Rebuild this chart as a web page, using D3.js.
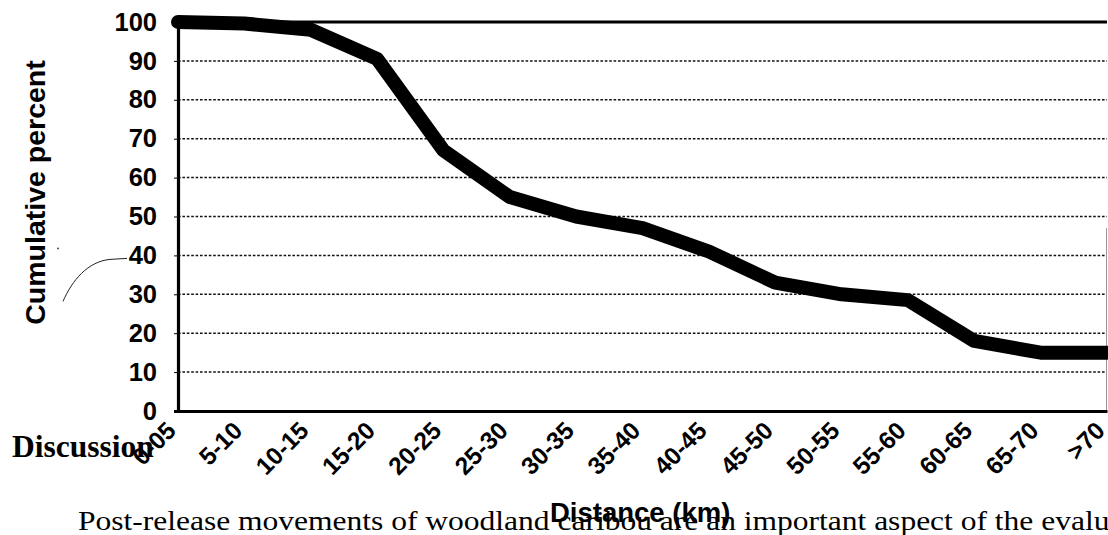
<!DOCTYPE html>
<html>
<head>
<meta charset="utf-8">
<script src="https://cdn.jsdelivr.net/npm/d3@7"></script>
<style>
  html, body { margin: 0; padding: 0; background: #fff; }
  svg { display: block; }
</style>
</head>
<body>
<svg id="chart" width="1108" height="535"></svg>
<script>
// ---- data ----
const categories = ["0-05", "5-10", "10-15", "15-20", "20-25", "25-30", "30-35", "35-40",
                    "40-45", "45-50", "50-55", "55-60", "60-65", "65-70", ">70"];
const cumulativePercent = [100, 99.6, 98, 90.5, 67, 55, 50, 47, 41, 33, 30, 28.5, 18, 15, 15];
const yTicks = [0, 10, 20, 30, 40, 50, 60, 70, 80, 90, 100];
const yTitle = "Cumulative percent";
const xTitle = "Distance (km)";
const headingText = "Discussion";
const bodyVisible = "Post-release movements of woodland caribou are an important aspect of the evalu";
const bodyText = "Post-release movements of woodland caribou are an important aspect of the evaluation";

(function () {
// ---- layout ----
const svg = d3.select("#chart");
const plotL = 178, plotR = 1107, plotT = 22, plotB = 411;
const sans = "'Liberation Sans', Arial, sans-serif";
const serif = "'Liberation Serif', 'Times New Roman', serif";

const x = d3.scalePoint().domain(categories).range([plotL, plotR]).padding(0);
const y = d3.scaleLinear().domain([0, 100]).range([plotB, plotT]);

// body text (scanned line, slightly stretched horizontally)
const bodyX = 78, bodyFont = 28, bodyEnd = 1110;
const probe = svg.append("text")
  .attr("font-family", serif).attr("font-size", bodyFont).text(bodyVisible);
const natural = probe.node().getComputedTextLength();
probe.remove();
const sx = (bodyEnd - bodyX) / natural;
svg.append("text")
  .attr("transform", `translate(${bodyX},530) scale(${sx},1)`)
  .attr("font-family", serif).attr("font-size", bodyFont)
  .attr("fill", "#000")
  .text(bodyText);

svg.append("text")
  .attr("x", 12).attr("y", 457)
  .attr("font-family", serif).attr("font-size", 31.5).attr("font-weight", "bold")
  .attr("fill", "#000")
  .text(headingText);

// gridlines
const grid = svg.append("g");
grid.selectAll("line").data(yTicks.filter(d => d > 0 && d < 100)).join("line")
  .attr("x1", plotL).attr("x2", plotR)
  .attr("y1", d => y(d)).attr("y2", d => y(d))
  .attr("stroke", "#111").attr("stroke-width", 1.5)
  .attr("stroke-dasharray", "2.6,1.8");

// top border
svg.append("line")
  .attr("x1", plotL).attr("x2", plotR).attr("y1", y(100)).attr("y2", y(100))
  .attr("stroke", "#000").attr("stroke-width", 3);
// faint right border
svg.append("line")
  .attr("x1", plotR - 0.5).attr("x2", plotR - 0.5).attr("y1", y(47)).attr("y2", y(0))
  .attr("stroke", "#999").attr("stroke-width", 1);

// y axis
const yAxis = d3.axisLeft(y).tickValues(yTicks).tickSize(4).tickPadding(17);
const gy = svg.append("g").attr("transform", `translate(${plotL},0)`).call(yAxis);
gy.select(".domain").attr("stroke", "#000").attr("stroke-width", 3.2);
gy.selectAll(".tick line").attr("stroke", "#000").attr("stroke-width", 1);
gy.selectAll(".tick text")
  .attr("font-family", sans).attr("font-size", 25.5).attr("font-weight", "bold")
  .attr("fill", "#000");

// x axis
const xAxis = d3.axisBottom(x).tickSize(0).tickPadding(0);
const gx = svg.append("g").attr("transform", `translate(0,${plotB})`).call(xAxis);
gx.select(".domain").attr("stroke", "#000").attr("stroke-width", 3.2);
gx.selectAll(".tick text")
  .attr("font-family", sans).attr("font-size", 24.5).attr("font-weight", "bold")
  .attr("fill", "#000")
  .attr("text-anchor", "end")
  .attr("dy", null)
  .attr("transform", "translate(-1,21) rotate(-45)");

// data line
svg.append("path")
  .datum(cumulativePercent)
  .attr("fill", "none").attr("stroke", "#000")
  .attr("stroke-width", 14).attr("stroke-linejoin", "round").attr("stroke-linecap", "round")
  .attr("d", d3.line().x((d, i) => x(categories[i])).y(d => y(d)));

// axis titles
svg.append("text")
  .attr("transform", `translate(45,${(y(100) + y(0)) / 2 - 24}) rotate(-90)`)
  .attr("text-anchor", "middle")
  .attr("font-family", sans).attr("font-size", 28.5).attr("font-weight", "bold")
  .attr("fill", "#000")
  .text(yTitle);

svg.append("text")
  .attr("x", 550).attr("y", 522)
  .attr("text-anchor", "start")
  .attr("font-family", sans).attr("font-size", 27.5).attr("font-weight", "bold")
  .attr("fill", "#000")
  .text(xTitle);

// scan annotation stroke near the 40 tick
const ay = y(40);
svg.append("path")
  .attr("d", `M63,${ay + 46} C72,${ay + 25} 88,${ay + 6} 110,${ay + 4} L127,${ay + 3}`)
  .attr("fill", "none").attr("stroke", "#222").attr("stroke-width", 1);
svg.append("circle").attr("cx", 58).attr("cy", ay - 7).attr("r", 0.9).attr("fill", "#333");
})();
</script>
</body>
</html>
